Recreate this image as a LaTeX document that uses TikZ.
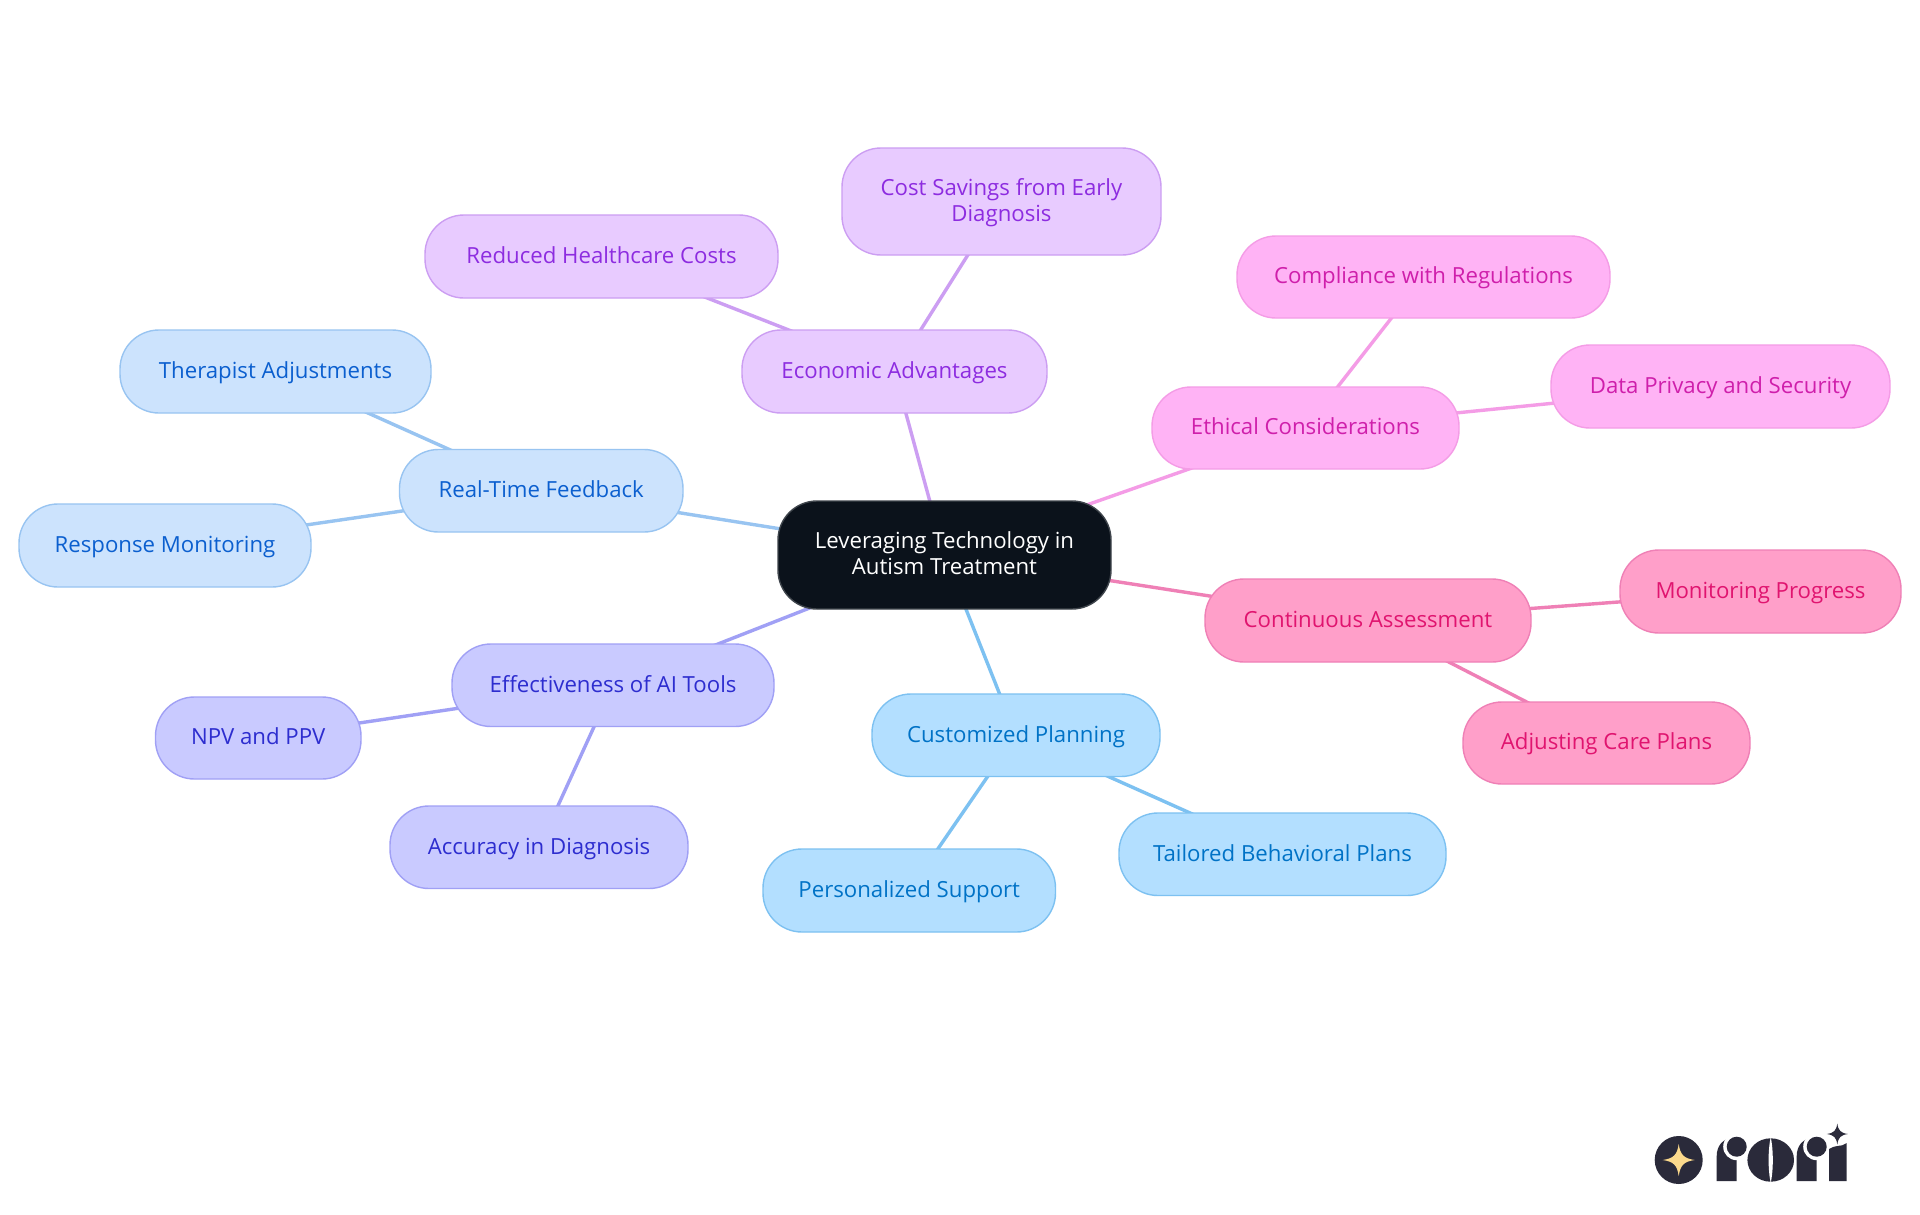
\documentclass[tikz,border=0pt]{standalone}
\usepackage{fontspec}
\setmainfont{Open Sans}
\usetikzlibrary{backgrounds}
\definecolor{rootfill}{HTML}{0B121B}\definecolor{rootline}{HTML}{3F454C}
\definecolor{econfill}{HTML}{E8CBFF}\definecolor{econline}{HTML}{CC9EF2}\definecolor{econtext}{HTML}{8D2CE0}
\definecolor{ethifill}{HTML}{FFB3F5}\definecolor{ethiline}{HTML}{F49CE6}\definecolor{ethitext}{HTML}{CF1FAB}
\definecolor{contfill}{HTML}{FF9FC9}\definecolor{contline}{HTML}{EF80B6}\definecolor{conttext}{HTML}{E0146F}
\definecolor{custfill}{HTML}{B3DFFF}\definecolor{custline}{HTML}{7DC1F1}\definecolor{custtext}{HTML}{0072C6}
\definecolor{efffill}{HTML}{C9CAFF}\definecolor{effline}{HTML}{A0A0F5}\definecolor{efftext}{HTML}{2D2DCF}
\definecolor{realfill}{HTML}{CCE3FD}\definecolor{realline}{HTML}{98C4F1}\definecolor{realtext}{HTML}{0B5FCF}
\definecolor{logodark}{HTML}{2A2A3A}\definecolor{logostar}{HTML}{FBD98C}
\tikzset{
  x=1pt,y=-1pt,
  mind/.style={rounded corners=39pt,inner sep=0pt,line width=1.4pt,align=center,
    font=\fontsize{22.2}{24.3}\selectfont},
  rootnode/.style={mind,fill=rootfill,draw=rootline,text=white},
  econ/.style={mind,fill=econfill,draw=econline,text=econtext},
  ethi/.style={mind,fill=ethifill,draw=ethiline,text=ethitext},
  cont/.style={mind,fill=contfill,draw=contline,text=conttext},
  cust/.style={mind,fill=custfill,draw=custline,text=custtext},
  eff/.style={mind,fill=efffill,draw=effline,text=efftext},
  real/.style={mind,fill=realfill,draw=realline,text=realtext},
  link/.style={line width=3.4pt},
}
\newcommand{\vfix}{\rule[-5.6pt]{0pt}{25pt}}
% name, x1, y1, x2, y2, style, text
\newcommand{\mnode}[7]{%
  \pgfmathsetmacro{\mcx}{(#2+#4)/2}\pgfmathsetmacro{\mcy}{(#3+#5)/2}%
  \pgfmathsetmacro{\mw}{#4-#2}\pgfmathsetmacro{\mh}{#5-#3}%
  \node[#6,minimum width=\mw pt,minimum height=\mh pt] (#1) at (\mcx,\mcy) {\vfix #7\vfix};}
\newcommand{\sparkle}[4]{% cx, cy, radius, colour
  \fill[#4,shift={(#1,#2)},scale=#3]
    (0,-1) .. controls (0.1,-0.32) and (0.32,-0.1) .. (1,0)
    .. controls (0.32,0.1) and (0.1,0.32) .. (0,1)
    .. controls (-0.1,0.32) and (-0.32,0.1) .. (-1,0)
    .. controls (-0.32,-0.1) and (-0.1,-0.32) .. (0,-1) -- cycle;}
\newcommand{\logor}[1]{% x of left edge of the stem
  \begin{scope}[shift={(#1,0)}]
    \fill[logodark] (0,1181) -- (0,1156) .. controls (0,1146) and (6,1138.3) .. (16,1138.3)
      -- (20,1138.3) -- (20,1181) -- cycle;
    \fill[white] (20,1146.7) circle[radius=13.5];
    \fill[white] (20,1130) rectangle (32,1170);
    \fill[logodark] (20,1146.7) circle[radius=10];
  \end{scope}}
\begin{document}
\begin{tikzpicture}
\useasboundingbox (0,0) rectangle (1920,1215);
\mnode{root}{778}{501}{1111}{609}{rootnode}{Leveraging Technology in\\Autism Treatment}
\mnode{econ}{742}{330}{1047}{413}{econ}{Economic Advantages}
\mnode{cost}{842}{148}{1161}{255}{econ}{Cost Savings from Early\\Diagnosis}
\mnode{redu}{425}{215}{778}{298}{econ}{Reduced Healthcare Costs}
\mnode{ethi}{1152}{387}{1459}{469}{ethi}{Ethical Considerations}
\mnode{comp}{1237}{236}{1610}{318}{ethi}{Compliance with Regulations}
\mnode{priv}{1551}{345}{1890}{428}{ethi}{Data Privacy and Security}
\mnode{cont}{1205}{579}{1531}{662}{cont}{Continuous Assessment}
\mnode{moni}{1620}{550}{1901}{633}{cont}{Monitoring Progress}
\mnode{adju}{1463}{702}{1750}{784}{cont}{Adjusting Care Plans}
\mnode{cust}{872}{694}{1160}{776.5}{cust}{Customized Planning}
\mnode{tail}{1119}{813}{1446}{895.5}{cust}{Tailored Behavioral Plans}
\mnode{pers}{763}{849}{1055.5}{932}{cust}{Personalized Support}
\mnode{effe}{452}{644}{774}{726.5}{eff}{Effectiveness of AI Tools}
\mnode{npvp}{155.5}{697}{361}{779}{eff}{NPV and PPV}
\mnode{accu}{390}{806}{688}{888.5}{eff}{Accuracy in Diagnosis}
\mnode{real}{399.5}{449.5}{683}{532}{real}{Real-Time Feedback}
\mnode{ther}{120}{330}{431}{413}{real}{Therapist Adjustments}
\mnode{resp}{19}{504}{311}{587}{real}{Response Monitoring}
\begin{pgfonlayer}{background}
  \fill[white] (0,0) rectangle (1920,1215);
  \draw[link,econline] (root.center) -- (econ.center);
  \draw[link,econline] (econ.center) -- (cost.center);
  \draw[link,econline] (econ.center) -- (redu.center);
  \draw[link,ethiline] (root.center) -- (ethi.center);
  \draw[link,ethiline] (ethi.center) -- (comp.center);
  \draw[link,ethiline] (ethi.center) -- (priv.center);
  \draw[link,contline] (root.center) -- (cont.center);
  \draw[link,contline] (cont.center) -- (moni.center);
  \draw[link,contline] (cont.center) -- (adju.center);
  \draw[link,custline] (root.center) -- (cust.center);
  \draw[link,custline] (cust.center) -- (tail.center);
  \draw[link,custline] (cust.center) -- (pers.center);
  \draw[link,effline] (root.center) -- (effe.center);
  \draw[link,effline] (effe.center) -- (npvp.center);
  \draw[link,effline] (effe.center) -- (accu.center);
  \draw[link,realline] (root.center) -- (real.center);
  \draw[link,realline] (real.center) -- (ther.center);
  \draw[link,realline] (real.center) -- (resp.center);
\end{pgfonlayer}
% logo
\fill[logodark] (1678.7,1160) circle[radius=24];
\sparkle{1678.7}{1160}{16}{logostar}
\logor{1716.7}
\fill[logodark] (1770.7,1160) ellipse[x radius=23.3,y radius=21.7];
\fill[white] (1770.7,1137) .. controls (1773.5,1150) and (1773.5,1170) .. (1770.7,1183)
  .. controls (1767.9,1170) and (1767.9,1150) .. (1770.7,1137) -- cycle;
\logor{1796.7}
\fill[logodark] (1829,1181) -- (1829,1149) .. controls (1833,1147) and (1835,1146) .. (1837.5,1146)
  .. controls (1841,1146) and (1844,1145) .. (1846.7,1143) -- (1846.7,1181) -- cycle;
\sparkle{1837.3}{1134}{10.5}{logodark}
\end{tikzpicture}
\end{document}
